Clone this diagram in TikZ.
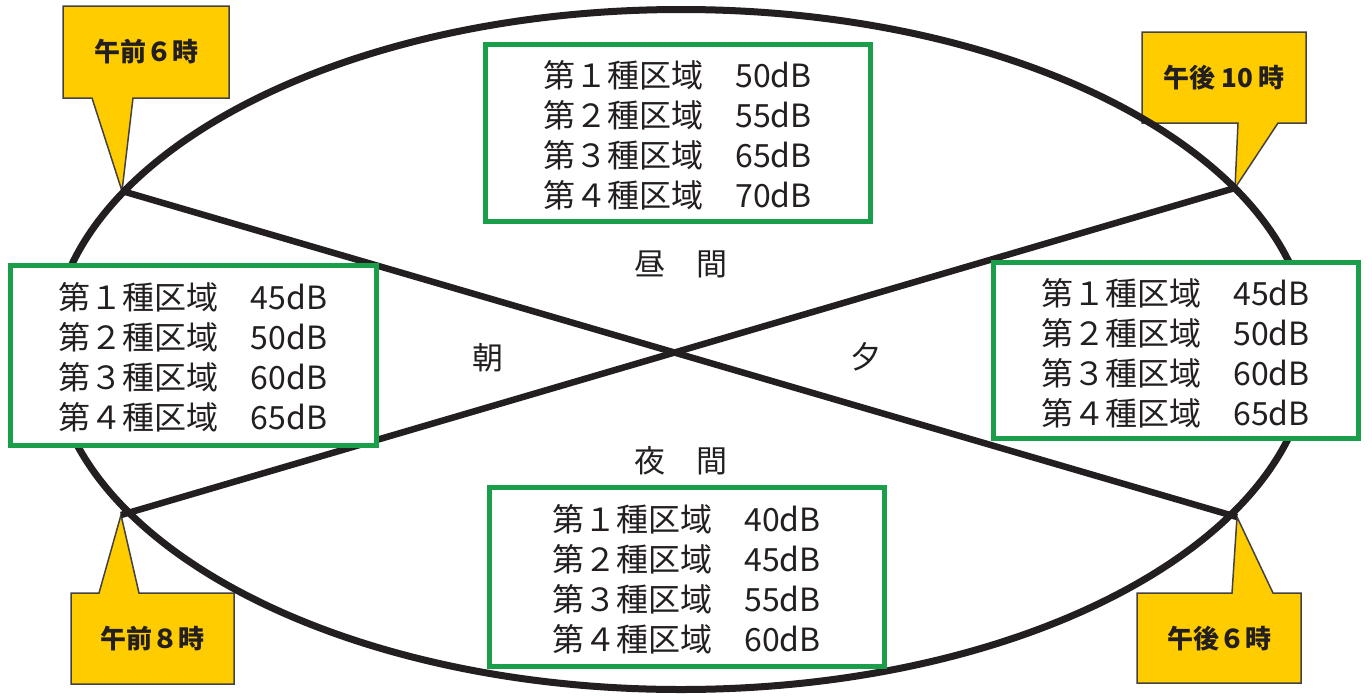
\documentclass[tikz,border=0pt]{standalone}
\usepackage{fontspec}
\setmainfont{Noto Sans CJK JP}
\usetikzlibrary{shapes.geometric}
\definecolor{zonegreen}{RGB}{26,158,74}
\definecolor{callyellow}{RGB}{255,204,0}
\definecolor{inkdark}{RGB}{35,31,32}
\tikzset{
  ringline/.style={draw=inkdark, line width=7pt},
  crossline/.style={draw=inkdark, line width=6.5pt},
  callshape/.style={fill=callyellow, draw=inkdark!85, line width=1.5pt, line join=miter},
  calltext/.style={font=\fontsize{26}{30}\selectfont\bfseries, text=inkdark, inner sep=0pt},
  zonebox/.style={draw=zonegreen, line width=5pt, fill=white, inner sep=0pt},
  zonetext/.style={align=left, inner sep=0pt, font=\fontsize{32}{40}\selectfont, text=inkdark},
  periodtext/.style={font=\fontsize{31}{36}\selectfont, text=inkdark, inner sep=0pt}
}
\begin{document}
\begin{tikzpicture}[x=1pt,y=-1pt]
\useasboundingbox[fill=white] (0,0) rectangle (1372,699);
% tip coordinates
\coordinate (tA) at (122,191);
\coordinate (tB) at (1235,188);
\coordinate (tC) at (121,515);
\coordinate (tD) at (1237,517);
% callouts
\path[callshape] (63,6) -- (229,6) -- (229,98) -- (133,98) -- (tA) -- (92,98) -- (63,98) -- cycle;
\path[callshape] (1142,32) -- (1306,32) -- (1306,123) -- (1278,123) -- (tB) -- (1238,123) -- (1142,123) -- cycle;
\path[callshape] (71,593) -- (99,593) -- (tC) -- (139,593) -- (234,593) -- (234,684) -- (71,684) -- cycle;
\path[callshape] (1137,593) -- (1232,593) -- (tD) -- (1273,593) -- (1301,593) -- (1301,683) -- (1137,683) -- cycle;
\node[calltext] (lA) at (146,52) {午前６時};
\node[calltext] (lB) at (1224,78) {午後 10 時};
\node[calltext] (lC) at (152,639) {午前８時};
\node[calltext] (lD) at (1219,639) {午後６時};
% ring and crossing lines
\node[ringline, ellipse, inner sep=0pt, minimum width=1258pt, minimum height=680pt] (ring) at (681,349.5) {};
\draw[crossline] (tA) -- (tD);
\draw[crossline] (tC) -- (tB);
% zone boxes
\node[zonebox, minimum width=385pt, minimum height=177pt] (day) at (677.5,132.5) {};
\node[zonetext] (dayt) at ([yshift=-3pt]day.center)
  {第１種区域　50dB\\第２種区域　55dB\\第３種区域　65dB\\第４種区域　70dB};
\node[zonebox, minimum width=366pt, minimum height=180pt] (morning) at (193,355) {};
\node[zonetext] (morningt) at ([yshift=-2pt]morning.center)
  {第１種区域　45dB\\第２種区域　50dB\\第３種区域　60dB\\第４種区域　65dB};
\node[zonebox, minimum width=365pt, minimum height=176pt] (evening) at (1175.5,350) {};
\node[zonetext] (eveningt) at ([yshift=-3pt]evening.center)
  {第１種区域　45dB\\第２種区域　50dB\\第３種区域　60dB\\第４種区域　65dB};
\node[zonebox, minimum width=395pt, minimum height=179pt] (night) at (686.5,576.5) {};
\node[zonetext] (nightt) at ([yshift=-3pt]night.center)
  {第１種区域　40dB\\第２種区域　45dB\\第３種区域　55dB\\第４種区域　60dB};
% period labels
\node[periodtext] (pday) at (681,264) {昼　間};
\node[periodtext] (pmorning) at (488,358) {朝};
\node[periodtext] (pevening) at (866,357) {夕};
\node[periodtext] (pnight) at (681,461) {夜　間};
\end{tikzpicture}
\end{document}
